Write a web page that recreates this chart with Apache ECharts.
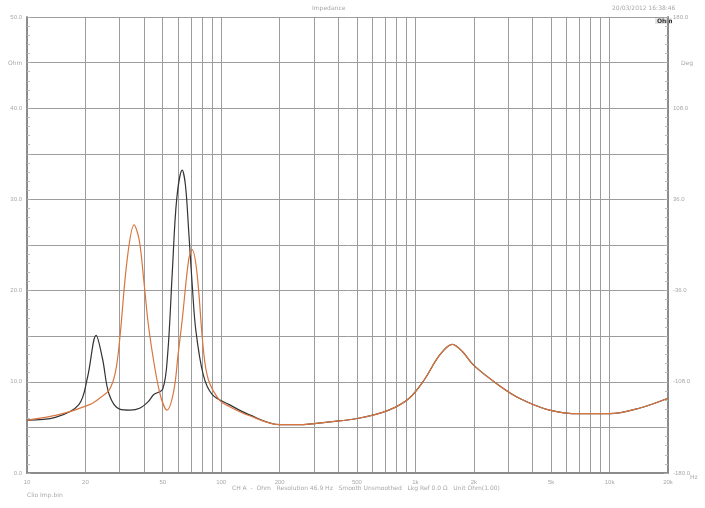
<!DOCTYPE html>
<html><head><meta charset="utf-8">
<script src="https://cdn.jsdelivr.net/npm/echarts@6/dist/echarts.min.js"></script>
<style>html,body{margin:0;padding:0;background:#fff}#c{width:705px;height:508px}</style>
</head><body><div id="c"></div>
<script>
// Frequencies (Hz) and impedance (Ohm)
const freqA = [10,14,18.5,20.5,22.7,24.5,26.5,30,34,38,42,45,50,53,56,59,63,65.5,68,71,74,81,90,110,139,200,253,360,510,730,930,1110,1330,1550,1750,2000,2700,3430,4900,7000,10000,14200,20000];
const zA    = [5.8,6.1,7.5,10.5,15.1,12.5,8.6,7.0,6.9,7.1,7.8,8.6,9.2,13.0,22.0,30.0,33.2,31.5,26.6,20.5,15.7,10.7,8.6,7.5,6.4,5.3,5.3,5.6,6.0,6.9,8.2,10.2,12.9,14.1,13.3,11.8,9.6,8.2,6.9,6.5,6.5,7.1,8.2];
const freqB = [10,14.6,21,24,26.5,28.5,30,32.8,35.6,37.8,40,42.5,47.9,52.7,57,60,63,68,70.8,75,81,86,98,110,139,200,253,360,510,730,930,1110,1330,1550,1750,2000,2700,3430,4900,7000,10000,14200,20000];
const zB    = [5.8,6.4,7.5,8.3,9.1,11.0,14.6,23.4,27.2,25.6,21.0,15.7,9.1,6.9,9.0,13.0,16.8,23.4,24.5,22.0,13.5,10.2,8.0,7.3,6.3,5.3,5.3,5.6,6.0,6.9,8.2,10.2,12.9,14.1,13.3,11.8,9.6,8.2,6.9,6.5,6.5,7.1,8.2];
const gridFreqs = [10,20,30,40,50,60,70,80,90,100,200,300,400,500,600,700,800,900,1000,2000,3000,4000,5000,6000,7000,8000,9000,10000,20000];
const labelFreqs = [10,20,50,100,200,500,1000,2000,5000,10000,20000];
const leftLabels = [0,10,20,30,40,50];
const rightLabels = [-180,-108,-36,36,108,180];

const chart = echarts.init(document.getElementById('c'), null, {renderer:'canvas'});
const txt = {fill:'#a8a8a8', fontSize:6, fontFamily:'DejaVu Sans'};
chart.setOption({
  animation:false,
  backgroundColor:'#fff',
  grid:{left:27,right:37,top:17,bottom:35,containLabel:false},
  xAxis:{
    type:'log', logBase:10, min:10, max:20000,
    axisLine:{show:true,onZero:false,lineStyle:{color:'#8c8c8c',width:2}},
    axisTick:{show:false,customValues:gridFreqs},
    splitLine:{show:true,lineStyle:{color:'#9c9c9c',width:1}},
    axisLabel:{customValues:labelFreqs,color:'#a8a8a8',fontSize:6,margin:6,
      formatter:v=> v>=1000 ? (v/1000)+'k' : String(v)}
  },
  yAxis:[{
    type:'value', min:0, max:50, interval:5, position:'left',
    axisLine:{show:true,lineStyle:{color:'#8c8c8c',width:2}},
    axisTick:{show:true,inside:true,length:4,lineStyle:{color:'#aaa'}},
    minorTick:{show:true,splitNumber:5,length:3,lineStyle:{color:'#bbb'}},
    splitLine:{show:true,lineStyle:{color:'#9c9c9c',width:1}},
    axisLabel:{color:'#a8a8a8',fontSize:6,margin:5,
      formatter:v=> leftLabels.indexOf(v)>=0 ? v.toFixed(1) : ''}
  },{
    type:'value', min:-180, max:180, interval:36, position:'right',
    axisLine:{show:true,lineStyle:{color:'#8c8c8c',width:2}},
    axisTick:{show:true,inside:true,length:4,lineStyle:{color:'#aaa'}},
    minorTick:{show:true,splitNumber:5,length:3,lineStyle:{color:'#bbb'}},
    splitLine:{show:false},
    axisLabel:{color:'#a8a8a8',fontSize:6,margin:5,
      formatter:v=> rightLabels.indexOf(v)>=0 ? v.toFixed(1) : ''}
  }],
  series:[
    {type:'line', data:freqA.map((f,i)=>[f,zA[i]]), smooth:0.35, symbol:'none',
     lineStyle:{color:'#333333',width:1.2}, z:3},
    {type:'line', data:freqB.map((f,i)=>[f,zB[i]]), smooth:0.35, symbol:'none',
     lineStyle:{color:'#d9763f',width:1.2}, z:4}
  ],
  graphic:[
    {type:'text',left:312,top:5,style:Object.assign({text:'Impedance'},txt)},
    {type:'text',left:612,top:5,style:Object.assign({text:'20/03/2012 16:38:46'},txt)},
    {type:'rect',shape:{x:655,y:18,width:17,height:6},style:{fill:'#e4e4e4'}},
    {type:'text',left:657,top:18,style:{text:'Ohm',fontSize:6,fontWeight:'bold',fill:'#333',fontFamily:'DejaVu Sans'}},
    {type:'text',left:8,top:60,style:Object.assign({text:'Ohm'},txt)},
    {type:'text',left:681,top:60,style:Object.assign({text:'Deg'},txt)},
    {type:'text',left:690,top:474,style:Object.assign({text:'Hz'},txt)},
    {type:'text',left:232,top:485,style:Object.assign({text:'CH A  -  Ohm   Resolution 46.9 Hz   Smooth Unsmoothed   Lkg Ref 0.0 Ω   Unit Ohm(1.00)'},txt)},
    {type:'text',left:27,top:492,style:Object.assign({text:'Clio Imp.bin'},txt)}
  ]
});
</script></body></html>
